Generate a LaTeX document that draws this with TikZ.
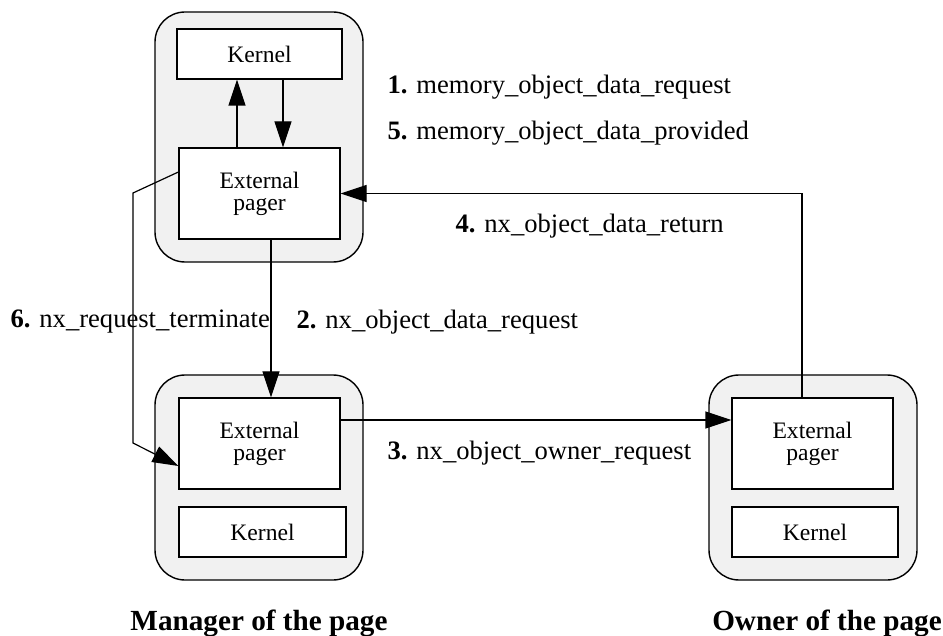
\documentclass[tikz,border=0pt]{standalone}
\usepackage{fontspec}
\setmainfont{Liberation Serif}
\usetikzlibrary{positioning,arrows.meta}

\tikzset{
  hostbox/.style={draw, fill=gray!11, rounded corners=15pt, minimum width=104pt,
    line width=0.7pt},
  box/.style={draw, fill=white, inner sep=0pt, align=center,
    font=\fontsize{11.8}{11}\selectfont},
  msg/.style={anchor=west, inner sep=0pt, font=\fontsize{13.3}{16}\selectfont},
  site/.style={font=\fontsize{14.6}{17}\selectfont\bfseries},
  >={Triangle[length=13pt,width=8.5pt]}
}

\begin{document}
\begin{tikzpicture}[x=0.5pt, y=-0.5pt, line width=0.6pt]
        \useasboundingbox (0,0) rectangle (943,636);
        % top: kernel and pager
        \node[hostbox, minimum height=125pt] (tophost) at (259,137) {};
        \node[box, minimum width=82.5pt, minimum height=25pt] (topkernel)
        at (259.5,54) {Kernel}; \node[box, minimum width=80.5pt, minimum
        height=45.5pt] (toppager) at (259.5,193.5) {External\\pager};
        % manager of the page
        \node[hostbox, minimum height=102.5pt] (mgrhost) at (259,477.5) {};
        \node[box, minimum width=80.5pt, minimum height=45.5pt] (mgrpager)
        at (259.5,443.5) {External\\pager}; \node[box, minimum width=83.5pt,
        minimum height=25pt] (mgrkernel) at (262.5,532) {Kernel};
        \node[site, below=11pt of mgrhost] (mgrtitle) {Manager of the page};
        % owner of the page
        \node[hostbox, minimum height=102.5pt] (ownerhost) at (813,477.5) {};
        \node[box, minimum width=80.5pt, minimum height=45.5pt] (ownerpager)
        at (812.5,443.5) {External\\pager}; \node[box, minimum width=83pt,
        minimum height=25pt] (ownerkernel) at (815,532) {Kernel};
        \node[site, below=11pt of ownerhost, xshift=7pt] (ownertitle) {Owner
        of the page};
        % messages
        \node[msg] (m1) at (387,87) {\textbf{1.} memory\_object\_data\_request};
        \node[msg] (m5) at (387,133) {\textbf{5.} memory\_object\_data\_provided};
        \node[msg] (m4) at (455,226) {\textbf{4.} nx\_object\_data\_return};
        \node[msg] (m6) at (10,322) {\textbf{6.} nx\_request\_terminate};
        \node[msg] (m2) at (296,322) {\textbf{2.} nx\_object\_data\_request};
        \node[msg] (m3) at (387,453) {\textbf{3.} nx\_object\_owner\_request};
        % connectors
        \draw[->] ([xshift=-11.25pt]toppager.north) -- ([xshift=-11.25pt]topkernel.south);
        \draw[->] ([xshift=11.75pt]topkernel.south) -- ([xshift=11.75pt]toppager.north);
        \draw[->] ([xshift=5.75pt]toppager.south) -- ([xshift=5.75pt]mgrpager.north);
        \draw[->] ([yshift=10.75pt]toppager.west) -- (133,193) -- (133,443)
        -- ([yshift=-11.25pt]mgrpager.west);
        \draw[->] ([yshift=11.75pt]mgrpager.east) -- ([yshift=11.75pt]ownerpager.west);
        \draw[->] ([xshift=-5.25pt]ownerpager.north) |- (toppager.east);
      \end{tikzpicture}
\end{document}
